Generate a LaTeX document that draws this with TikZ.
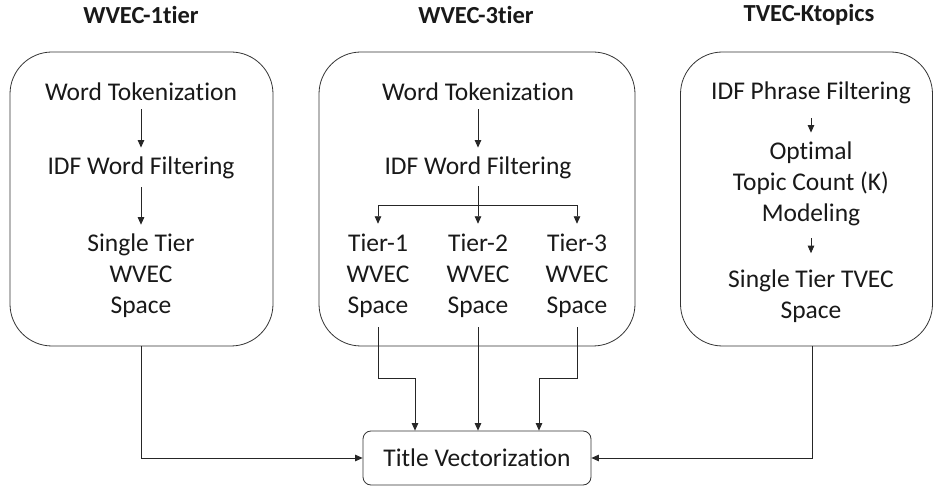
\documentclass[tikz,border=0pt]{standalone}
\usepackage{fontspec}
\setmainfont{Carlito}[Ligatures={NoCommon}]
\usetikzlibrary{arrows.meta,calc}

\begin{document}
\begin{tikzpicture}[x=1pt,y=-1pt,
  line width=0.8pt,
  every node/.style={font=\fontsize{25.5}{31}\selectfont, text=black!90, inner sep=0pt, align=center},
  panel/.style={draw=black!80, rounded corners=42pt, minimum height=294pt},
  heading/.style={font=\fontsize{24.5}{30}\selectfont\bfseries},
  arr/.style={draw=black!85, -{Triangle[length=7.5pt,width=6.5pt]}},
  link/.style={draw=black!85}
]
\useasboundingbox[fill=white] (0,0) rectangle (935,486);

% panel headings
\node[heading] (h1) at (141,15) {WVEC-1tier};
\node[heading] (h2) at (476,15) {WVEC-3tier};
\node[heading] (h3) at (809,15) {TVEC-Ktopics};

% panels
\node[panel, minimum width=263pt] (b1) at (141.5,199) {};
\node[panel, minimum width=316pt] (b2) at (477,199) {};
\node[panel, minimum width=252pt] (b3) at (806.5,199) {};

% WVEC-1tier pipeline
\node (wt1) at (141,92) {Word Tokenization};
\node (idf1) at (141,168) {IDF Word Filtering};
\node (s1) at (141,276) {Single Tier\\WVEC\\Space};
\draw[arr, shorten <=8pt, shorten >=9pt] (wt1.south) -- (idf1.north);
\draw[arr, shorten <=8pt, shorten >=9pt] (idf1.south) -- (s1.north);

% WVEC-3tier pipeline
\node (wt2) at (478,92) {Word Tokenization};
\node (idf2) at (478,168) {IDF Word Filtering};
\node (t1) at (378,276) {Tier-1\\WVEC\\Space};
\node (t2) at (478,276) {Tier-2\\WVEC\\Space};
\node (t3) at (577,276) {Tier-3\\WVEC\\Space};
\draw[arr, shorten <=8pt, shorten >=9pt] (wt2.south) -- (idf2.north);
\coordinate (bar) at (478,205);
\draw[arr, shorten <=7pt, shorten >=10pt] (idf2.south) -- (t2.north);
\draw[arr, shorten >=10pt] (bar) -| (t1.north);
\draw[arr, shorten >=10pt] (bar) -| (t3.north);

% TVEC-Ktopics pipeline
\node (pf) at (811,93) {IDF Phrase Filtering};
\node (opt) at (811,184) {Optimal\\Topic Count (K)\\Modeling};
\node (s3) at (811,296) {Single Tier TVEC\\Space};
\draw[arr, shorten <=14pt, shorten >=9pt] (pf.south) -- (opt.north);
\draw[arr, shorten <=12pt, shorten >=16pt] (opt.south) -- (s3.north);

% merge into title vectorization
\node[draw=black!80, rounded corners=8pt, minimum width=228pt, minimum height=54pt] (tv) at (477,458) {Title Vectorization};

\coordinate (j1) at (415,378);
\coordinate (j3) at (539,378);
\draw[arr, shorten <=9pt] (t1.south) |- (j1) -- (j1 |- tv.north);
\draw[arr, shorten <=9pt] (t2.south) -- (tv.north -| t2.south);
\draw[arr, shorten <=9pt] (t3.south) |- (j3) -- (j3 |- tv.north);
\draw[arr] (b1.south) |- (tv.west);
\draw[arr] ([xshift=5.5pt]b3.south) |- (tv.east);
\end{tikzpicture}
\end{document}
